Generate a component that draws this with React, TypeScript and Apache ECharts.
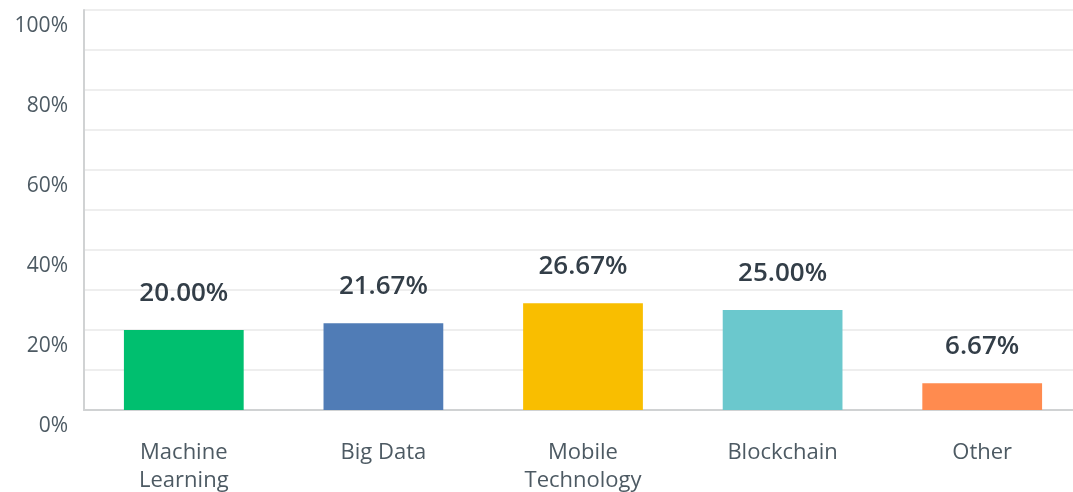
import React, { useEffect, useRef } from "react";
import * as echarts from "echarts";

const categories = ["Machine\nLearning", "Big Data", "Mobile\nTechnology", "Blockchain", "Other"];
const values = [20.0, 21.67, 26.67, 25.0, 6.67];
const colors = ["#00bf6f", "#507cb6", "#f9be00", "#6bc8cd", "#ff8b4f"];
const yTicks = [0, 20, 40, 60, 80, 100];

export default function App() {
  const ref = useRef<HTMLDivElement>(null);
  useEffect(() => {
    const chart = echarts.init(ref.current!, undefined, { renderer: "svg" });
    chart.setOption({
      animation: false,
      grid: { left: 84, right: 0, top: 10, bottom: 82, containLabel: false },
      xAxis: {
        type: "category",
        data: categories,
        axisLine: { lineStyle: { color: "#d0d2d3", width: 2 } },
        axisTick: { show: false },
        axisLabel: {
          color: "#4d5a63",
          fontSize: 22,
          fontFamily: "Open Sans",
          lineHeight: 28,
          margin: 26,
        },
      },
      yAxis: {
        type: "value",
        min: 0,
        max: 100,
        interval: 10,
        axisLine: { show: true, lineStyle: { color: "#d0d2d3", width: 2 } },
        axisTick: { show: false },
        splitLine: { lineStyle: { color: "#eeeeee", width: 2 } },
        axisLabel: {
          color: "#4d5a63",
          fontSize: 21,
          fontFamily: "Open Sans",
          margin: 16,
          verticalAlign: "top",
          padding: [3, 0, 0, 0],
          formatter: (v: number) => (yTicks.includes(v) ? v + "%" : ""),
        },
      },
      series: [
        {
          type: "bar",
          barCategoryGap: "40%",
          data: values.map((v, i) => ({ value: v, itemStyle: { color: colors[i] } })),
          label: {
            show: true,
            position: "top",
            distance: 26,
            color: "#333e48",
            fontSize: 26,
            fontWeight: 600,
            fontFamily: "Open Sans",
            formatter: (p: any) => p.value.toFixed(2) + "%",
          },
        },
      ],
    });
    return () => chart.dispose();
  }, []);
  return (
    <div style={{ position: "fixed", left: 0, top: 0, width: 1073, height: 492, overflow: "hidden" }}>
      <div ref={ref} style={{ width: 1082, height: 492 }} />
    </div>
  );
}
